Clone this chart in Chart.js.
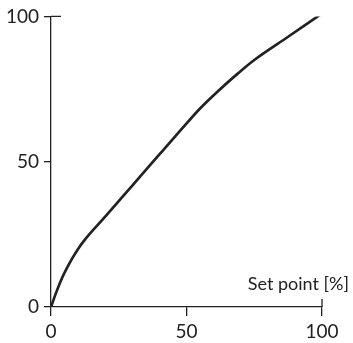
<!DOCTYPE html>
<html>
<head>
<meta charset="utf-8">
<script src="https://cdn.jsdelivr.net/npm/chart.js@4"></script>
<style>
  html, body { margin: 0; padding: 0; background: #fff; }
  #wrap { width: 353px; height: 343px; }
</style>
</head>
<body>
<div id="wrap"><canvas id="chart" width="353" height="343"></canvas></div>
<script>
// values
var setPoint = [0, 2, 4, 6, 8, 10, 12, 20, 30, 40, 48, 55, 62, 69, 75, 87.5, 100];
var output   = [0, 5.2, 9.8, 13.6, 17, 20, 22.6, 31.1, 41.8, 52.5, 61, 68.3, 74.6, 80.4, 85, 93, 101];
var tickValues = [0, 50, 100];
var xTitle = "Set point [%]";

var FONT = "Lato, 'Open Sans', sans-serif";

var points = [];
for (var i = 0; i < setPoint.length; i++) {
    points.push({x: setPoint[i], y: output[i]});
}

// extra tick marks at 100 that reach into the plot, plus x axis title
var axisExtras = {
    id: "axisExtras",
    afterDraw: function(chart) {
        var ctx = chart.ctx;
        var xs = chart.scales.x, ys = chart.scales.y;
        var x0 = xs.getPixelForValue(0), x100 = xs.getPixelForValue(100);
        var y0 = ys.getPixelForValue(0), y100 = ys.getPixelForValue(100);
        ctx.save();
        ctx.strokeStyle = "#222";
        ctx.lineWidth = 1.3;
        ctx.beginPath();
        ctx.moveTo(x0, y100);
        ctx.lineTo(x0 + 10, y100);
        ctx.moveTo(x100, y0);
        ctx.lineTo(x100, y0 - 8);
        ctx.stroke();
        ctx.fillStyle = "#222";
        ctx.font = "18px " + FONT;
        ctx.textAlign = "right";
        ctx.textBaseline = "middle";
        ctx.fillText(xTitle, x100 + 27, y0 - 23);
        ctx.restore();
    }
};

new Chart(document.getElementById("chart"), {
    type: "line",
    data: {
        datasets: [{
            data: points,
            borderColor: "#222",
            borderWidth: 2.7,
            pointRadius: 0,
            fill: false,
            cubicInterpolationMode: "monotone"
        }]
    },
    options: {
        responsive: false,
        animation: false,
        layout: {padding: {top: 15, right: 31, left: 0, bottom: 0}},
        plugins: {legend: {display: false}, tooltip: {enabled: false}},
        scales: {
            x: {
                type: "linear",
                min: 0, max: 100,
                afterBuildTicks: function(scale) {
                    scale.ticks = tickValues.map(function(v) { return {value: v}; });
                },
                afterFit: function(scale) { scale.height = 36; },
                border: {color: "#222", width: 1.3},
                grid: {drawOnChartArea: false, tickLength: 9, color: "#222", lineWidth: 1.3},
                ticks: {color: "#222", font: {family: FONT, size: 19}, padding: 4, maxRotation: 0}
            },
            y: {
                type: "linear",
                min: 0, max: 100,
                afterBuildTicks: function(scale) {
                    scale.ticks = tickValues.map(function(v) { return {value: v}; });
                },
                afterFit: function(scale) { scale.width = 51; },
                border: {color: "#222", width: 1.3},
                grid: {drawOnChartArea: false, tickLength: 7, color: "#222", lineWidth: 1.3},
                ticks: {color: "#222", font: {family: FONT, size: 19}, padding: 5}
            }
        }
    },
    plugins: [axisExtras]
});
</script>
</body>
</html>
